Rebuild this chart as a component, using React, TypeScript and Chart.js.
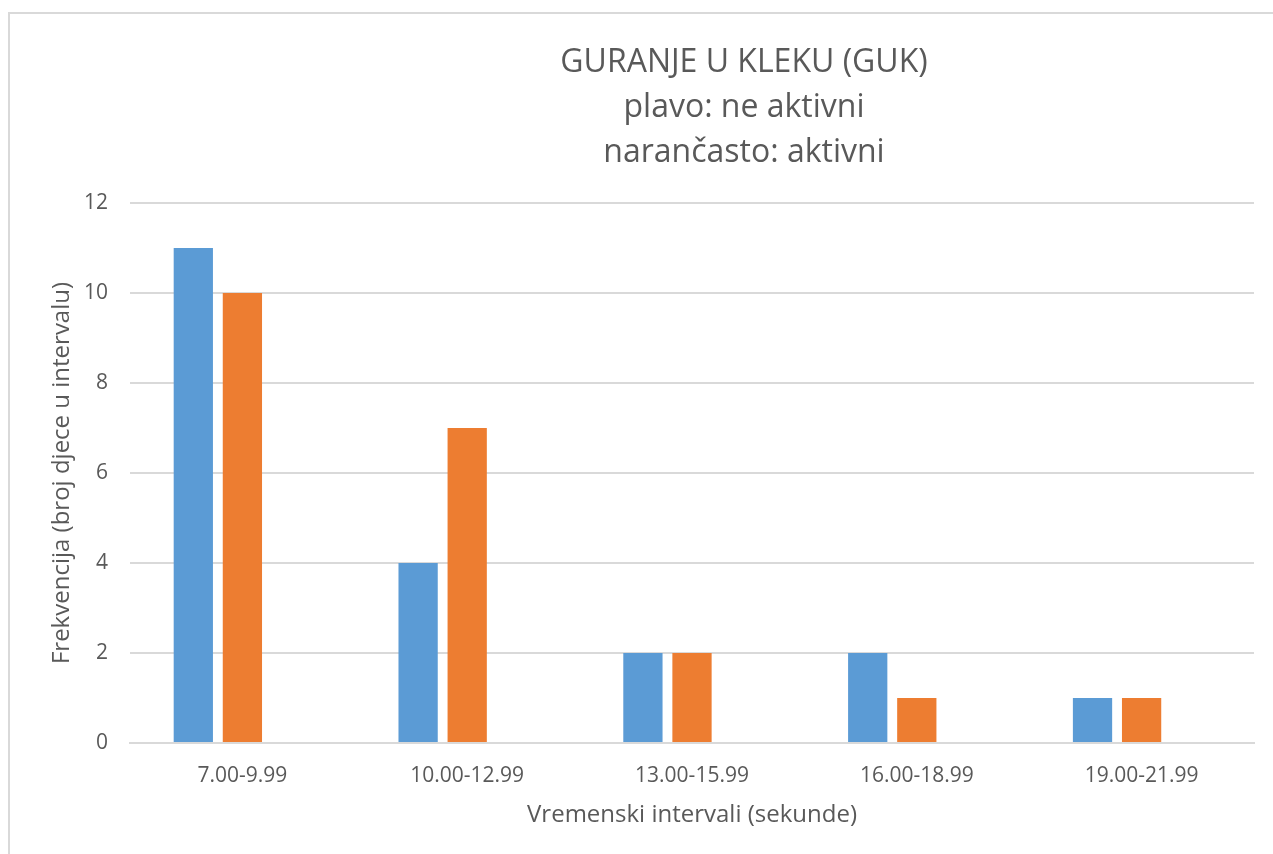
import React, { useEffect, useRef } from "react";
import { Chart, registerables } from "chart.js";

Chart.register(...registerables);

const categories = ["7.00-9.99", "10.00-12.99", "13.00-15.99", "16.00-18.99", "19.00-21.99"];
const neAktivni = [11, 4, 2, 2, 1];
const aktivni = [10, 7, 2, 1, 1];
const emptySeries = [null, null, null, null, null];
const titleLines = ["GURANJE U KLEKU (GUK)", "plavo: ne aktivni", "narančasto: aktivni"];
const yTitle = "Frekvencija (broj djece u intervalu)";
const xTitle = "Vremenski intervali (sekunde)";

const FONT = "'Open Sans', sans-serif";
const TEXT = "#595959";

const titlePlugin = {
  id: "multiTitle",
  afterDraw(chart: any) {
    const ctx = chart.ctx;
    ctx.save();
    ctx.fillStyle = TEXT;
    ctx.textAlign = "center";
    ctx.textBaseline = "middle";
    ctx.font = `32px ${FONT}`;
    const ys = [63, 108, 153];
    titleLines.forEach((t, i) => ctx.fillText(t, 744, ys[i]));
    ctx.restore();
  },
};

export default function App() {
  const ref = useRef<HTMLCanvasElement>(null);
  useEffect(() => {
    document.body.style.overflow = "hidden";
    const chart = new Chart(ref.current!, {
      type: "bar",
      data: {
        labels: categories,
        datasets: [
          { label: "ne aktivni", data: neAktivni, backgroundColor: "#5B9BD5" },
          { label: "aktivni", data: aktivni, backgroundColor: "#ED7D31" },
          { label: "", data: emptySeries as any, backgroundColor: "rgba(0,0,0,0)" },
        ],
      },
      options: {
        animation: false,
        responsive: false,
        devicePixelRatio: 1,
        categoryPercentage: 0.655,
        barPercentage: 0.8,
        layout: { padding: { top: 203, right: 19, bottom: 0, left: 0 } },
        plugins: {
          legend: { display: false },
          title: { display: false },
          tooltip: { enabled: false },
        },
        scales: {
          x: {
            grid: { display: false },
            border: { display: true, color: "#D9D9D9", width: 2 },
            ticks: { color: TEXT, font: { family: FONT, size: 21 }, padding: 12, maxRotation: 0 },
            title: { display: true, text: xTitle, color: TEXT, font: { family: FONT, size: 24 }, padding: { top: 0, bottom: 24 } },
            afterFit(scale: any) {
              scale.height = 111;
            },
          },
          y: {
            min: 0,
            max: 12,
            ticks: { stepSize: 2, color: TEXT, font: { family: FONT, size: 21 }, padding: 22 },
            grid: { color: "#D9D9D9", lineWidth: 2, drawTicks: false },
            border: { display: false },
            title: { display: true, text: yTitle, color: TEXT, font: { family: FONT, size: 24 }, padding: { top: 48, bottom: 0 } },
            afterFit(scale: any) {
              scale.width = 130;
            },
          },
        },
      },
      plugins: [titlePlugin],
    });
    return () => chart.destroy();
  }, []);
  return (
    <>
      <div
        style={{
          position: "fixed",
          left: 8,
          top: 12,
          width: 1400,
          height: 1000,
          border: "2px solid #D9D9D9",
          background: "#fff",
        }}
      />
      <canvas
        ref={ref}
        width={1273}
        height={854}
        style={{ position: "fixed", left: 0, top: 0, width: 1273, height: 854 }}
      />
    </>
  );
}
